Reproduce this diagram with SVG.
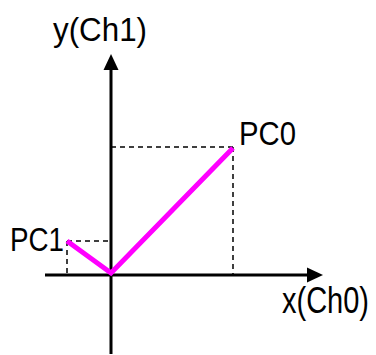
<svg xmlns="http://www.w3.org/2000/svg" width="376" height="355" viewBox="0 0 376 355">
<style>
.lbl{font-family:"Liberation Sans",Arial,sans-serif;font-size:33px;fill:#000}
.axis{stroke:#000;stroke-width:3;fill:none}
.dash{stroke:#000;stroke-width:1.5;stroke-dasharray:5,4;fill:none}
.vec{stroke:#FF00FF;stroke-width:5;fill:none;stroke-linejoin:miter}
</style>
<rect width="376" height="355" fill="#fff"/>
<g id="connectors">
<line class="dash" x1="111" y1="147" x2="233" y2="147"/>
<line class="dash" x1="233" y1="147" x2="233" y2="275"/>
<line class="dash" x1="67" y1="241" x2="111" y2="241"/>
<line class="dash" x1="67" y1="241" x2="67" y2="275"/>
<line class="axis" x1="111" y1="68" x2="111" y2="354"/>
<polygon points="111,54 103.5,70 118.5,70" fill="#000"/>
<line class="axis" x1="45" y1="275" x2="309" y2="275"/>
<polygon points="323,275 307,267.5 307,282.5" fill="#000"/>
<polyline class="vec" points="67,241 111,273 233,148"/>
</g>
<g id="y-label"><text class="lbl" x="53" y="41" textLength="94" lengthAdjust="spacingAndGlyphs">y(Ch1)</text></g>
<g id="x-label"><text class="lbl" x="282" y="313" style="font-size:36px" textLength="87" lengthAdjust="spacingAndGlyphs">x(Ch0)</text></g>
<g id="PC0"><text class="lbl" x="239" y="145" style="font-size:34px" textLength="57" lengthAdjust="spacingAndGlyphs">PC0</text></g>
<g id="PC1"><text class="lbl" x="10" y="251" style="font-size:34px" textLength="54" lengthAdjust="spacingAndGlyphs">PC1</text></g>
</svg>
